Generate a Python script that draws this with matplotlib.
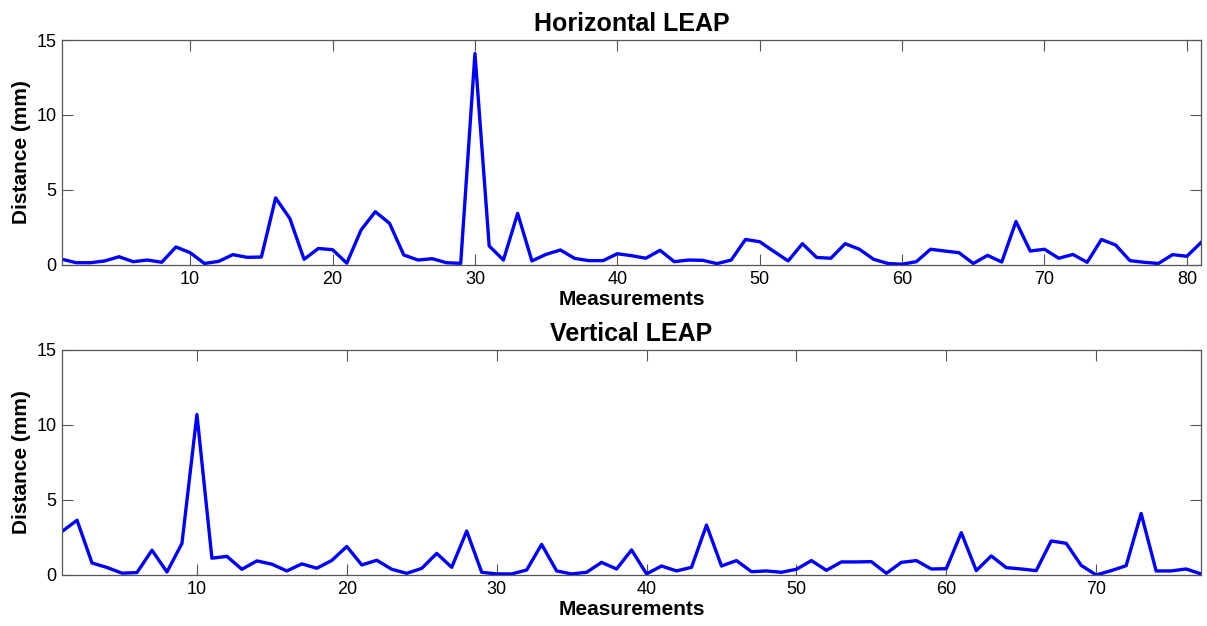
import matplotlib
matplotlib.use("Agg")
import matplotlib.pyplot as plt
import numpy as np

plt.rcParams['font.family'] = ['Liberation Sans', 'DejaVu Sans']

# Horizontal LEAP distances (mm), measurements 1..81
horizontal = [0.38, 0.15, 0.15, 0.27, 0.55, 0.22, 0.33, 0.18, 1.2, 0.82,
              0.1, 0.24, 0.69, 0.51, 0.53, 4.47, 3.1, 0.38, 1.1, 1.02,
              0.12, 2.33, 3.55, 2.78, 0.67, 0.33, 0.42, 0.15, 0.11, 14.1,
              1.27, 0.33, 3.44, 0.27, 0.71, 1.0, 0.44, 0.29, 0.29, 0.75,
              0.62, 0.45, 0.98, 0.22, 0.33, 0.31, 0.09, 0.33, 1.7, 1.55,
              0.9, 0.27, 1.42, 0.5, 0.45, 1.42, 1.05, 0.38, 0.1, 0.05,
              0.22, 1.05, 0.93, 0.82, 0.1, 0.64, 0.2, 2.9, 0.93, 1.05,
              0.45, 0.7, 0.18, 1.7, 1.33, 0.29, 0.18, 0.1, 0.69, 0.58,
              1.5]

# Vertical LEAP distances (mm), measurements 1..77
vertical = [2.9, 3.65, 0.8, 0.5, 0.12, 0.16, 1.65, 0.2, 2.1, 10.7,
            1.12, 1.24, 0.38, 0.94, 0.72, 0.27, 0.74, 0.45, 0.97, 1.9,
            0.67, 0.98, 0.38, 0.11, 0.44, 1.44, 0.51, 2.93, 0.18, 0.07,
            0.07, 0.33, 2.04, 0.27, 0.07, 0.18, 0.84, 0.4, 1.67, 0.07,
            0.6, 0.27, 0.51, 3.33, 0.6, 0.96, 0.22, 0.27, 0.18, 0.38,
            0.96, 0.31, 0.87, 0.87, 0.89, 0.11, 0.84, 0.96, 0.4, 0.42,
            2.82, 0.29, 1.27, 0.49, 0.4, 0.29, 2.27, 2.11, 0.64, 0.0,
            0.29, 0.62, 4.1, 0.27, 0.27, 0.4, 0.07]

panels = [("Horizontal LEAP", horizontal, np.arange(10, 81, 10)),
          ("Vertical LEAP", vertical, np.arange(10, 71, 10))]

fig = plt.figure(figsize=(12.07, 6.26), dpi=100)
rects = [[0.0514, 0.5767, 0.9437, 0.3594],
         [0.0514, 0.0815, 0.9437, 0.3594]]

for rect, (title, vals, xt) in zip(rects, panels):
    ax = fig.add_axes(rect)
    x = np.arange(1, len(vals) + 1)
    ax.plot(x, vals, color='#0000ff', linewidth=2.4)
    ax.set_xlim(1, len(vals))
    ax.set_ylim(0, 15)
    ax.set_xticks(xt)
    ax.set_yticks([0, 5, 10, 15])
    ax.tick_params(direction='in', top=True, right=True, labelsize=13,
                   length=8, color='#555555', pad=4)
    for s in ax.spines.values():
        s.set_color('#555555')
        s.set_linewidth(0.9)
    ax.set_title(title, fontsize=18, fontweight='bold', pad=6.5)
    ax.set_xlabel("Measurements", fontsize=15, fontweight='bold', labelpad=2)
    ax.set_ylabel("Distance (mm)", fontsize=15, fontweight='bold', labelpad=4)

fig.savefig("out.png", dpi=100)
